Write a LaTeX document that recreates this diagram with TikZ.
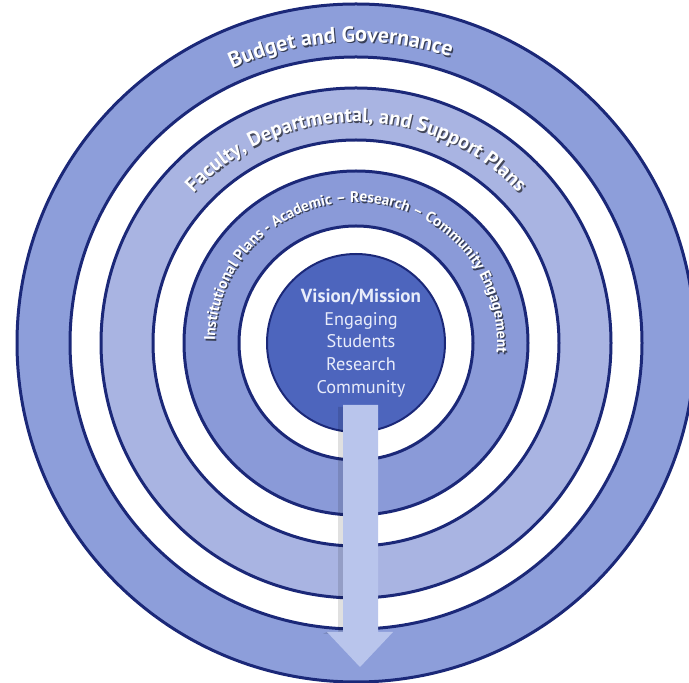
\documentclass[tikz,border=0pt]{standalone}
\usepackage{fontspec}
\setmainfont{PT Sans}
\usetikzlibrary{decorations.text}
\definecolor{navy}{HTML}{1B2878}
\definecolor{bandA}{HTML}{8D9EDA}
\definecolor{bandB}{HTML}{A9B4E2}
\definecolor{bandC}{HTML}{8A9AD8}
\definecolor{corec}{HTML}{4D65BD}
\definecolor{arrowc}{HTML}{B9C5EC}
\definecolor{coretext}{HTML}{E8ECFA}
\newcommand\ringlabel[5]{%
  \path[decorate,decoration={text along path,text align=center,text color=#5,text={#4}}]
    ([shift={(1.3,-1.3)}]C) ++(#2:#1) arc[start angle=#2,end angle=#3,radius=#1];
  \path[decorate,decoration={text along path,text align=center,text color=white,text={#4}}]
    (C) ++(#2:#1) arc[start angle=#2,end angle=#3,radius=#1];
}
\begin{document}
\begin{tikzpicture}[x=1pt,y=1pt,
  ringline/.style={navy,line width=3pt},
  coreline/.style={navy,line width=2pt}]
\useasboundingbox (0,0) rectangle (689,683);
\fill[white] (0,0) rectangle (689,683);
\coordinate (C) at (356,340);
% bands
\fill[bandA,even odd rule] (C) circle[radius=339] (C) circle[radius=286];
\fill[bandB,even odd rule] (C) circle[radius=255] (C) circle[radius=203];
\fill[bandC,even odd rule] (C) circle[radius=172] (C) circle[radius=117];
\fill[corec] (C) circle[radius=89];
% outlines
\foreach \r in {339,286,255,203,172,117} {\draw[ringline] (C) circle[radius=\r];}
\draw[coreline] (C) circle[radius=89];
% ring labels
\ringlabel{301}{183}{3}{|\fontsize{22}{22}\selectfont\bfseries|Budget and Governance}{bandA!40!black}
\ringlabel{221}{180}{0}{|\fontsize{20.5}{20.5}\selectfont\bfseries|Faculty, Departmental, and Support Plans}{bandB!40!black}
\ringlabel{141}{184}{-9}{|\fontsize{15.3}{15.3}\selectfont\bfseries|Institutional Plans - Academic – Research – Community Engagement}{bandC!40!black}
% core text
\node[align=center,text=coretext,font=\fontsize{18.3}{22.8}\selectfont] (core) at (361,340)
  {{\fontsize{19}{22.8}\selectfont\bfseries Vision/Mission}\\Engaging\\Students\\Research\\Community};
% arrow shadow
\fill[black,opacity=0.12] (338,276) -- (343,276) -- (343,51) -- (327,51) -- (323,49) -- (338,49) -- cycle;
% arrow
\fill[arrowc] (343,278) -- (378,278) -- (378,51) -- (393,51) -- (360,16) -- (327,51) -- (343,51) -- cycle;
\end{tikzpicture}
\end{document}
